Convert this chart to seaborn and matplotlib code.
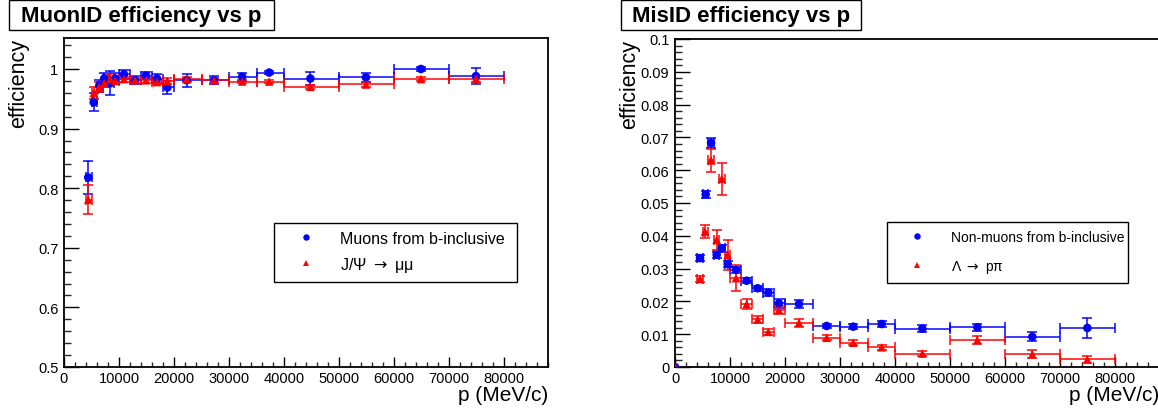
import numpy as np
import pandas as pd
import matplotlib
matplotlib.use("Agg")
import matplotlib.pyplot as plt
import seaborn as sns
from matplotlib.ticker import MultipleLocator, FuncFormatter
from matplotlib.patches import Rectangle

# ---------------- data ----------------
# Left panel: MuonID efficiency vs p
mu_b_p = [4400, 5400, 6400, 7300, 8400, 9300, 10900, 12900, 14900, 16900, 18800,
          22300, 27300, 32400, 37300, 44800, 54900, 64900, 74900]
mu_b_lo = [4000, 5000, 6000, 7000, 8000, 9000, 10000, 12000, 14000, 16000, 18000,
           20000, 25000, 30000, 35000, 40000, 50000, 60000, 70000]
mu_b_hi = [5000, 6000, 7000, 8000, 9000, 10000, 12000, 14000, 16000, 18000, 20000,
           25000, 30000, 35000, 40000, 50000, 60000, 70000, 80000]
mu_b_eff = [0.818, 0.944, 0.972, 0.984, 0.976, 0.984, 0.991, 0.981, 0.989, 0.984, 0.969,
            0.981, 0.981, 0.987, 0.994, 0.984, 0.986, 1.000, 0.988]
mu_b_err = [0.027, 0.015, 0.010, 0.010, 0.020, 0.010, 0.007, 0.007, 0.006, 0.008, 0.011,
            0.011, 0.007, 0.007, 0.003, 0.011, 0.008, 0.003, 0.013]

mu_j_p = mu_b_p
mu_j_lo = mu_b_lo
mu_j_hi = mu_b_hi
mu_j_eff = [0.781, 0.960, 0.970, 0.976, 0.983, 0.980, 0.983, 0.981, 0.981, 0.978, 0.980,
            0.983, 0.981, 0.979, 0.979, 0.970, 0.974, 0.983, 0.984]
mu_j_err = [0.024, 0.010, 0.008, 0.006, 0.008, 0.006, 0.004, 0.004, 0.004, 0.004, 0.005,
            0.004, 0.004, 0.003, 0.003, 0.003, 0.004, 0.003, 0.005]

# Right panel: MisID efficiency vs p
mis_b_p = [0, 4550, 5580, 6550, 7580, 8490, 9580, 11090, 13030, 15030, 16970, 18900,
           22550, 27580, 32400, 37580, 44970, 54970, 64970, 74970]
mis_lo = [0, 4000, 5000, 6000, 7000, 8000, 9000, 10000, 12000, 14000, 16000, 18000,
          20000, 25000, 30000, 35000, 40000, 50000, 60000, 70000]
mis_hi = [0, 5000, 6000, 7000, 8000, 9000, 10000, 12000, 14000, 16000, 18000, 20000,
          25000, 30000, 35000, 40000, 50000, 60000, 70000, 80000]
mis_b_eff = [0.0, 0.0332, 0.0526, 0.0683, 0.0342, 0.0362, 0.0314, 0.0296, 0.0263, 0.0240,
             0.0227, 0.0194, 0.0192, 0.0125, 0.0123, 0.0131, 0.0117, 0.0121, 0.0092, 0.0119]
mis_b_err = [0.0, 0.0010, 0.0010, 0.0016, 0.0010, 0.0010, 0.0010, 0.0010, 0.0008, 0.0008,
             0.0010, 0.0013, 0.0013, 0.0007, 0.0007, 0.0009, 0.0010, 0.0011, 0.0014, 0.0030]

mis_l_p = [0, 4550, 5450, 6550, 7580, 8500, 9580, 11090, 13030, 15030, 16970, 18900,
           22550, 27580, 32400, 37580, 44970, 54970, 64970, 74970]
mis_l_eff = [0.0, 0.0268, 0.0413, 0.0630, 0.0388, 0.0574, 0.0342, 0.0271, 0.0192, 0.0145,
             0.0107, 0.0174, 0.0135, 0.0089, 0.0074, 0.0060, 0.0041, 0.0082, 0.0039, 0.0023]
mis_l_err = [0.0, 0.0010, 0.0020, 0.0034, 0.0030, 0.0049, 0.0045, 0.0040, 0.0015, 0.0012,
             0.0010, 0.0013, 0.0012, 0.0008, 0.0007, 0.0008, 0.0008, 0.0012, 0.0012, 0.0012]

titles = ["MuonID efficiency vs p", "MisID efficiency vs p"]
labels_left = ["Muons from b-inclusive", "J/\u03a8 $\\rightarrow$ \u03bc\u03bc"]
labels_right = ["Non-muons from b-inclusive", "\u039b $\\rightarrow$ p\u03c0"]
x_label = "p (MeV/c)"
y_label = "efficiency"

# ---------------- style ----------------
sns.set_theme(style="white")
plt.rcParams["font.family"] = ["Liberation Sans", "DejaVu Sans"]
plt.rcParams["mathtext.fontset"] = "dejavusans"

BLUE = "#0000ff"
RED = "#ff0000"

fig = plt.figure(figsize=(11.58, 4.10), dpi=100)
axL = fig.add_axes([64 / 1158, 42 / 410, 484 / 1158, 329 / 410])
axR = fig.add_axes([675 / 1158, 42 / 410, 484 / 1158, 328 / 410])


def draw_series(ax, p, lo, hi, eff, err, color):
    p = np.asarray(p, float)
    xerr = [p - np.asarray(lo, float), np.asarray(hi, float) - p]
    xerr = [np.clip(xerr[0], 0, None), np.clip(xerr[1], 0, None)]
    ax.errorbar(p, eff, yerr=err, xerr=xerr, fmt="none", ecolor=color,
                elinewidth=1.2, capsize=3.5, capthick=1.2, alpha=0.9, zorder=2)


def panel(ax, pb, lob, hib, effb, errb, pr, lor, hir, effr, errr, labels,
          ylim, ymajor, yminor, legend_kw):
    draw_series(ax, pb, lob, hib, effb, errb, BLUE)
    draw_series(ax, pr, lor, hir, effr, errr, RED)
    df = pd.concat([
        pd.DataFrame({"p": pb, "eff": effb, "series": labels[0]}),
        pd.DataFrame({"p": pr, "eff": effr, "series": labels[1]}),
    ], ignore_index=True)
    sns.scatterplot(data=df, x="p", y="eff", hue="series", style="series",
                    palette={labels[0]: BLUE, labels[1]: RED},
                    markers={labels[0]: "o", labels[1]: "^"},
                    s=38, linewidth=0, ax=ax, zorder=3)
    handles, labs = ax.get_legend_handles_labels()
    if ax.get_legend() is not None:
        ax.get_legend().remove()
    leg = ax.legend(handles, labs, frameon=True, fancybox=False, framealpha=1,
                    edgecolor="black", loc="upper left", mode="expand",
                    borderaxespad=0, **legend_kw)
    leg.get_frame().set_linewidth(1.0)
    for t in leg.get_texts():
        t.set_color("black")

    ax.set_xlim(0, 88000)
    ax.set_ylim(*ylim)
    ax.xaxis.set_major_locator(MultipleLocator(10000))
    ax.xaxis.set_minor_locator(MultipleLocator(2000))
    ax.yaxis.set_major_locator(MultipleLocator(ymajor))
    ax.yaxis.set_minor_locator(MultipleLocator(yminor))
    ax.xaxis.set_major_formatter(FuncFormatter(lambda v, pos: "%d" % round(v)))
    ax.yaxis.set_major_formatter(FuncFormatter(lambda v, pos: "%g" % round(v, 4)))
    ax.tick_params(axis="x", which="major", direction="in", length=7, width=1,
                   labelsize=10.5, pad=3, colors="black", bottom=True, top=False)
    ax.tick_params(axis="x", which="minor", direction="in", length=3.5, width=1,
                   bottom=True, top=False)
    ax.tick_params(axis="y", which="major", direction="in", length=10.5, width=1,
                   labelsize=10.5, pad=4, colors="black", left=True, right=False)
    ax.tick_params(axis="y", which="minor", direction="in", length=5.3, width=1,
                   left=True, right=False)
    for sp in ax.spines.values():
        sp.set_color("black")
        sp.set_linewidth(1.3)
        sp.set_visible(True)
    ax.set_xlabel(x_label, loc="right", fontsize=15, color="black")
    ax.set_ylabel(y_label, loc="top", fontsize=15.5, color="black")
    ax.xaxis.set_label_coords(1.0, -0.054)
    ax.yaxis.set_label_coords(-0.072, 1.0)
    ax.grid(False)


panel(axL, mu_b_p, mu_b_lo, mu_b_hi, mu_b_eff, mu_b_err,
      mu_j_p, mu_j_lo, mu_j_hi, mu_j_eff, mu_j_err, labels_left,
      (0.5, 1.052), 0.1, 0.02,
      dict(bbox_to_anchor=(0.434, 0.438, 0.502, 0.0), fontsize=11.5,
           borderpad=0.5, handlelength=3.0, handletextpad=0.6,
           labelspacing=0.55, markerscale=0.75))

panel(axR, mis_b_p, mis_lo, mis_hi, mis_b_eff, mis_b_err,
      mis_l_p, mis_lo, mis_hi, mis_l_eff, mis_l_err, labels_right,
      (0.0, 0.1), 0.01, 0.002,
      dict(bbox_to_anchor=(0.438, 0.442, 0.498, 0.0), fontsize=10,
           borderpad=0.6, handlelength=3.1, handletextpad=0.9,
           labelspacing=0.96, markerscale=0.75))

# title boxes
for (x0, x1), title in zip([(9, 274), (621, 861)], titles):
    fig.patches.append(Rectangle((x0 / 1158, 1 - 31 / 410), (x1 - x0) / 1158, 30 / 410,
                                 transform=fig.transFigure, facecolor="white",
                                 edgecolor="black", linewidth=1.0, zorder=5))
    fig.text((x0 + x1) / 2 / 1158, 1 - 16.5 / 410, title, ha="center", va="center",
             fontsize=16, fontweight="bold", color="black", zorder=6)

fig.savefig("out.png", dpi=100, facecolor="white")
